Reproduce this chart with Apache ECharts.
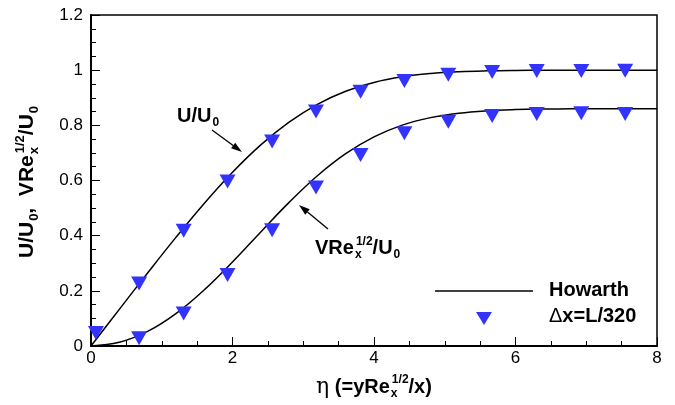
<!DOCTYPE html>
<html>
<head>
<meta charset="utf-8">
<script src="https://cdn.jsdelivr.net/npm/echarts@6/dist/echarts.min.js"></script>
<style>
html, body { margin: 0; padding: 0; background: #fff; }
#main { width: 675px; height: 405px; }
</style>
</head>
<body>
<div id="main"></div>
<script>
// Howarth (Blasius) curves
var etaCurve = [0, 0.4, 0.8, 1.2, 1.6, 2.0, 2.4, 2.8, 3.2, 3.6, 4.0, 4.4, 4.8, 5.2, 5.6, 6.0, 6.4, 6.8, 7.2, 7.6, 8.0];
var uCurve = [0, 0.1328, 0.2647, 0.3938, 0.5168, 0.6298, 0.7290, 0.8115, 0.8761, 0.9233, 0.9555, 0.9759, 0.9878, 0.9943, 0.9975, 0.9990, 0.9996, 0.9999, 1.0, 1.0, 1.0];
var vCurve = [0, 0.0133, 0.0528, 0.1173, 0.2033, 0.3048, 0.4136, 0.5206, 0.6172, 0.6972, 0.7582, 0.8007, 0.8280, 0.8441, 0.8528, 0.8571, 0.8591, 0.8599, 0.8602, 0.8603, 0.8604];

// computed points (dx = L/320)
var etaU = [0.07, 0.68, 1.31, 1.93, 2.56, 3.18, 3.81, 4.43, 5.05, 5.67, 6.30, 6.93, 7.55];
var uPts = [0.047, 0.227, 0.418, 0.596, 0.741, 0.85, 0.922, 0.961, 0.983, 0.993, 0.997, 0.997, 0.998];
var etaV = [0.68, 1.31, 1.93, 2.56, 3.18, 3.81, 4.43, 5.05, 5.67, 6.30, 6.93, 7.55];
var vPts = [0.028, 0.118, 0.257, 0.42, 0.575, 0.692, 0.771, 0.813, 0.834, 0.841, 0.844, 0.841];

var FAM = '"Liberation Sans", Arial, sans-serif';
var BLUE = '#3333ff';

function zip(a, b) {
    var res = [];
    for (var i = 0; i < a.length; i++) res.push([a[i], b[i]]);
    return res;
}

var ctx = document.createElement('canvas').getContext('2d');
function textWidth(str, size, bold, fam) {
    ctx.font = (bold ? 'bold ' : '') + size + 'px ' + (fam || FAM);
    return ctx.measureText(str).width;
}

// text made of pieces (sub/superscripts); group at (x, y), centred unless left
function mathText(parts, x, y, rot, left) {
    var cx, children = [], total = 0;
    parts.forEach(function (p) { if (!p.stack) total += textWidth(p.t, p.s, p.b !== false, p.f) + (p.dx || 0); });
    cx = left ? 0 : -total / 2;
    parts.forEach(function (p) {
        var w = textWidth(p.t, p.s, p.b !== false, p.f);
        children.push({
            type: 'text',
            x: cx + (p.dx || 0),
            y: p.dy || 0,
            style: {
                text: p.t,
                font: (p.b !== false ? 'bold ' : '') + p.s + 'px ' + (p.f || FAM),
                fill: '#000',
                verticalAlign: 'middle',
                align: 'left'
            }
        });
        if (!p.stack) cx += w + (p.dx || 0);
    });
    return { type: 'group', x: x, y: y, rotation: rot || 0, children: children };
}

function arrow(x1, y1, x2, y2) {
    var a = Math.atan2(y2 - y1, x2 - x1), L = 11, W = 3.5;
    var bx = x2 - L * Math.cos(a), by = y2 - L * Math.sin(a);
    return [
        { type: 'line', shape: { x1: x1, y1: y1, x2: bx, y2: by }, style: { stroke: '#000', lineWidth: 1.3 } },
        { type: 'polygon', shape: { points: [[x2, y2],
            [bx + W * Math.sin(a), by - W * Math.cos(a)],
            [bx - W * Math.sin(a), by + W * Math.cos(a)]] }, style: { fill: '#000' } }
    ];
}

var myChart = echarts.init(document.getElementById('main'), null, { renderer: 'canvas' });

var axisLabel = { color: '#000', fontSize: 17, fontFamily: FAM };

var graphics = []
    .concat(arrow(212, 130, 242, 152))
    .concat(arrow(328, 229, 299, 205))
    .concat([
        // U/U0 label
        mathText([
            { t: 'U/U', s: 20 },
            { t: '0', s: 12, dy: 7, dx: 1 }
        ], 177, 116, 0, true),
        // V Re_x^1/2 / U0 label
        mathText([
            { t: 'VRe', s: 20 },
            { t: 'x', s: 12, dy: 7, dx: 1, stack: true },
            { t: '1/2', s: 12, dy: -6, dx: 2 },
            { t: '/U', s: 20 },
            { t: '0', s: 12, dy: 7, dx: 1 }
        ], 315, 248, 0, true),
        // x axis title
        mathText([
            { t: 'η', s: 22, b: false, f: '"DejaVu Serif", serif' },
            { t: ' (=yRe', s: 20 },
            { t: 'x', s: 12, dy: 7, dx: 1, stack: true },
            { t: '1/2', s: 12, dy: -7, dx: 2 },
            { t: '/x)', s: 20 }
        ], 374, 387),
        // y axis title
        mathText([
            { t: 'U/U', s: 21 },
            { t: '0', s: 13, dy: 7, dx: 1 },
            { t: ',  VRe', s: 21 },
            { t: 'x', s: 13, dy: 7, dx: 1, stack: true },
            { t: '1/2', s: 13, dy: -7, dx: 2 },
            { t: '/U', s: 21 },
            { t: '0', s: 13, dy: 7, dx: 1 }
        ], 27, 182, Math.PI / 2),
        // legend
        { type: 'line', shape: { x1: 435, y1: 291, x2: 533, y2: 291 }, style: { stroke: '#000', lineWidth: 1.5 } },
        { type: 'polygon', shape: { points: [[476, 312], [492, 312], [484, 325]] }, style: { fill: BLUE } },
        { type: 'text', x: 549, y: 290, style: { text: 'Howarth', font: 'bold 20px ' + FAM, fill: '#000', verticalAlign: 'middle' } },
        mathText([
            { t: 'Δ', s: 20, b: false },
            { t: 'x=L/320', s: 20 }
        ], 549, 316, 0, true)
    ]);

var option = {
    animation: false,
    grid: {
        left: 91, right: 18, top: 15, bottom: 59,
        show: true, borderColor: '#000', borderWidth: 1.5
    },
    xAxis: {
        type: 'value', min: 0, max: 8, interval: 2,
        axisLine: { lineStyle: { color: '#000', width: 2 } },
        axisTick: { inside: true, length: 9, lineStyle: { color: '#000', width: 1 } },
        minorTick: { show: true, splitNumber: 4, length: 5, lineStyle: { color: '#000', width: 1 } },
        splitLine: { show: false },
        axisLabel: Object.assign({ margin: 4 }, axisLabel)
    },
    yAxis: {
        type: 'value', min: 0, max: 1.2, interval: 0.2,
        axisLine: { show: true, lineStyle: { color: '#000', width: 2 } },
        axisTick: { show: true, inside: true, length: 9, lineStyle: { color: '#000', width: 1 } },
        minorTick: { show: true, splitNumber: 4, length: 5, lineStyle: { color: '#000', width: 1 } },
        splitLine: { show: false },
        axisLabel: Object.assign({ margin: 8 }, axisLabel)
    },
    series: [
        {
            name: 'Howarth', type: 'line', data: zip(etaCurve, uCurve),
            showSymbol: false, smooth: 0.4,
            lineStyle: { color: '#000', width: 1.5 }, z: 2
        },
        {
            name: 'Howarth', type: 'line', data: zip(etaCurve, vCurve),
            showSymbol: false, smooth: 0.4,
            lineStyle: { color: '#000', width: 1.5 }, z: 2
        },
        {
            name: 'Δx=L/320', type: 'scatter', data: zip(etaU, uPts),
            symbol: 'triangle', symbolRotate: 180, symbolSize: [16, 14],
            itemStyle: { color: BLUE, opacity: 1 }, z: 3
        },
        {
            name: 'Δx=L/320', type: 'scatter', data: zip(etaV, vPts),
            symbol: 'triangle', symbolRotate: 180, symbolSize: [16, 14],
            itemStyle: { color: BLUE, opacity: 1 }, z: 3
        }
    ],
    graphic: graphics
};
myChart.setOption(option);    // 载入图表
</script>
</body>
</html>
